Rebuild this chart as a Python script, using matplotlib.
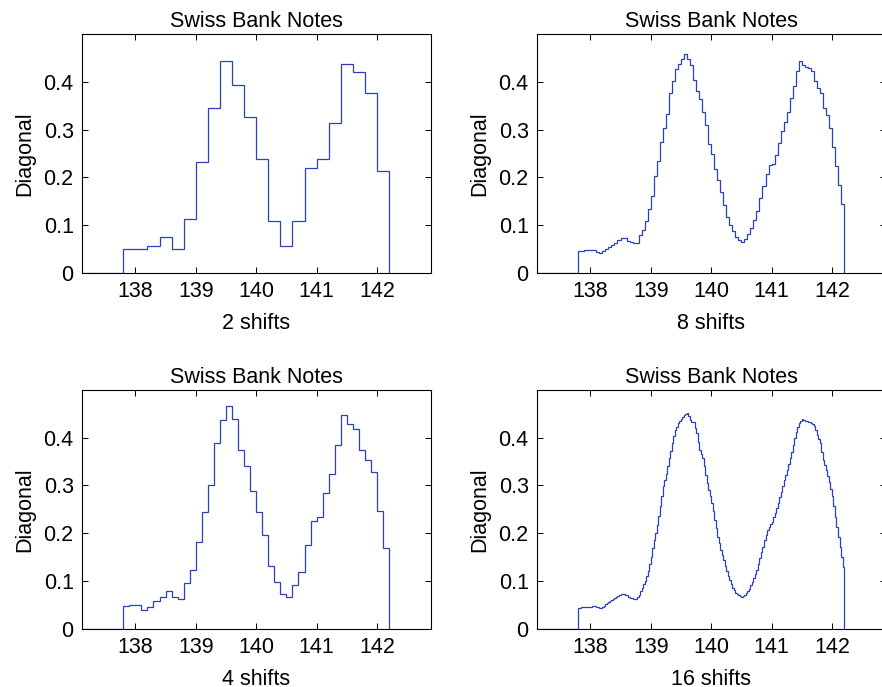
import numpy as np
import matplotlib.pyplot as plt

plt.rcParams['font.family'] = ['Liberation Sans', 'DejaVu Sans']

# Averaged shifted histograms of the diagonal, bin width 0.4, first edge 137.8
start = 137.8
width = 0.4

shifts_2 = [0.050, 0.050, 0.056, 0.075, 0.050, 0.113, 0.232, 0.345, 0.444, 0.394, 0.326,
            0.238, 0.108, 0.056, 0.108, 0.219, 0.238, 0.313, 0.438, 0.421, 0.376, 0.213]

shifts_4 = [0.047, 0.050, 0.050, 0.040, 0.045, 0.057, 0.066, 0.079, 0.066, 0.063, 0.095,
            0.123, 0.182, 0.244, 0.300, 0.388, 0.438, 0.466, 0.440, 0.375, 0.341, 0.289,
            0.244, 0.197, 0.132, 0.097, 0.072, 0.066, 0.091, 0.119, 0.176, 0.226, 0.235,
            0.285, 0.323, 0.385, 0.448, 0.429, 0.419, 0.375, 0.353, 0.329, 0.247, 0.169]

shifts_8 = [0.045, 0.047, 0.048, 0.049, 0.049, 0.048, 0.044, 0.042, 0.045, 0.050, 0.054,
            0.059, 0.063, 0.068, 0.074, 0.073, 0.067, 0.064, 0.063, 0.063, 0.080, 0.091,
            0.108, 0.133, 0.162, 0.202, 0.234, 0.275, 0.303, 0.333, 0.376, 0.402, 0.427,
            0.437, 0.448, 0.457, 0.448, 0.436, 0.404, 0.381, 0.363, 0.336, 0.309, 0.270,
            0.249, 0.217, 0.195, 0.170, 0.143, 0.118, 0.101, 0.087, 0.075, 0.070, 0.064,
            0.071, 0.082, 0.095, 0.110, 0.129, 0.156, 0.181, 0.207, 0.225, 0.228, 0.247,
            0.272, 0.297, 0.316, 0.336, 0.367, 0.391, 0.423, 0.443, 0.434, 0.431, 0.429,
            0.423, 0.402, 0.387, 0.376, 0.345, 0.331, 0.303, 0.264, 0.223, 0.184, 0.144]

shifts_16 = [0.043, 0.044, 0.045, 0.045, 0.045, 0.046, 0.046, 0.046, 0.046, 0.047, 0.048,
             0.047, 0.046, 0.045, 0.044, 0.044, 0.045, 0.048, 0.051, 0.054, 0.056, 0.059,
             0.061, 0.063, 0.064, 0.066, 0.068, 0.070, 0.072, 0.072, 0.072, 0.071, 0.070,
             0.067, 0.065, 0.064, 0.063, 0.063, 0.063, 0.066, 0.071, 0.078, 0.086, 0.093,
             0.100, 0.110, 0.121, 0.136, 0.151, 0.168, 0.186, 0.201, 0.217, 0.236, 0.256,
             0.277, 0.298, 0.312, 0.325, 0.341, 0.357, 0.372, 0.388, 0.403, 0.416, 0.423,
             0.430, 0.435, 0.440, 0.444, 0.447, 0.450, 0.452, 0.445, 0.437, 0.434, 0.432,
             0.421, 0.409, 0.392, 0.374, 0.366, 0.357, 0.340, 0.322, 0.306, 0.291, 0.277,
             0.263, 0.246, 0.228, 0.210, 0.193, 0.179, 0.165, 0.154, 0.144, 0.132, 0.120,
             0.111, 0.102, 0.093, 0.085, 0.080, 0.075, 0.072, 0.070, 0.068, 0.066, 0.068,
             0.070, 0.074, 0.078, 0.084, 0.091, 0.098, 0.106, 0.114, 0.123, 0.135, 0.148,
             0.160, 0.172, 0.185, 0.197, 0.206, 0.214, 0.219, 0.224, 0.233, 0.242, 0.252,
             0.263, 0.275, 0.287, 0.299, 0.311, 0.321, 0.332, 0.345, 0.357, 0.371, 0.385,
             0.399, 0.413, 0.422, 0.430, 0.436, 0.440, 0.438, 0.436, 0.435, 0.434, 0.432,
             0.430, 0.428, 0.425, 0.416, 0.406, 0.397, 0.388, 0.371, 0.353, 0.342, 0.332,
             0.320, 0.308, 0.293, 0.277, 0.256, 0.235, 0.214, 0.193, 0.172, 0.151, 0.130]

panels = [
    (shifts_2, 2, [0.093, 0.6026, 0.3957, 0.348]),
    (shifts_8, 8, [0.6088, 0.6026, 0.3957, 0.348]),
    (shifts_4, 4, [0.093, 0.0849, 0.3957, 0.3474]),
    (shifts_16, 16, [0.6088, 0.0849, 0.3957, 0.3474]),
]

xmin, xmax = 137.117, 142.894
fs = 15.5

fig = plt.figure(figsize=(8.82, 6.87), dpi=100)

for vals, m, pos in panels:
    ax = fig.add_axes(pos)
    step = width / m
    edges = start + step * np.arange(len(vals) + 1)
    # line at zero from the left axis edge, then the histogram outline
    ax.stairs(np.r_[0, vals], np.r_[xmin, edges], baseline=0,
              color='#2b40b8', linewidth=0.9, zorder=3)
    ax.set_xlim(xmin, xmax)
    ax.set_ylim(0, 0.5)
    ax.set_xticks([138, 139, 140, 141, 142])
    ax.set_yticks([0, 0.1, 0.2, 0.3, 0.4])
    ax.set_yticklabels(['0', '0.1', '0.2', '0.3', '0.4'])
    ax.tick_params(direction='in', length=4, width=0.7, top=True, right=True,
                   labelsize=fs, pad=6)
    for s in ax.spines.values():
        s.set_linewidth(0.8)
    ax.set_title('Swiss Bank Notes', fontsize=fs, pad=5)
    ax.set_xlabel(f'{m} shifts', fontsize=fs, labelpad=8)
    ax.set_ylabel('Diagonal', fontsize=fs, labelpad=6)

fig.savefig('out.png', dpi=100)
